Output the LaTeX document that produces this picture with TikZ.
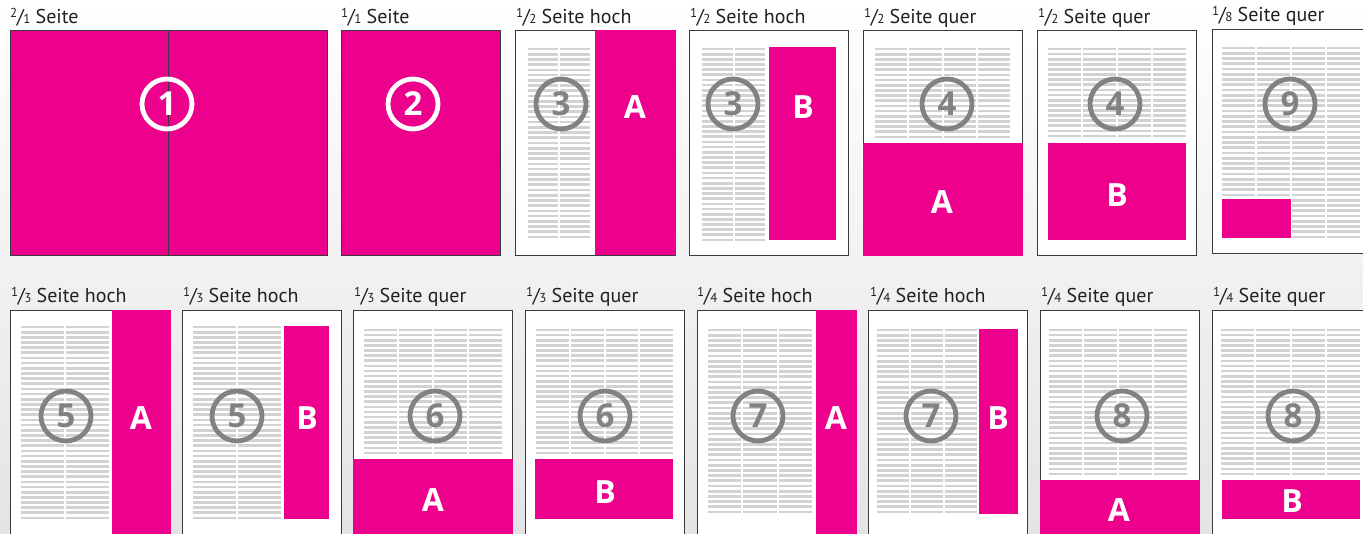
\documentclass[tikz,border=0pt]{standalone}
\usepackage{fontspec}
\setmainfont{PT Sans}
\newfontfamily\boldnum{Open Sans}
\definecolor{mag}{HTML}{EC008C}
\definecolor{tlgray}{HTML}{D2D2D3}
\definecolor{ringgray}{HTML}{828285}
\definecolor{pageborder}{HTML}{3A3A3A}
\definecolor{labelcol}{HTML}{231F20}
\definecolor{bgbot}{HTML}{E4E4E5}
\newcommand\frc[2]{{\fontsize{13}{13}\selectfont\raisebox{6pt}{#1}}\kern-0.3pt/\kern-0.8pt{\fontsize{13}{13}\selectfont #2}}
\newcommand\tlines[5]{%
  \pgfmathsetmacro\cw{(#2-#1+2)/#5}%
  \pgfmathtruncatemacro\nl{round((#4-#3)/5.22)}%
  \pgfmathsetmacro\lp{(#4-#3)/\nl}%
  \foreach \c in {1,...,#5}{%
    \foreach \l in {0,...,\nl}{%
      \fill[tlfill] ({#1+(\c-1)*\cw},{#3+\l*\lp-1.35}) rectangle ({#1+\c*\cw-2},{#3+\l*\lp+1.35});
    }%
  }%
}
\tikzset{
  pagebox/.style={fill=white, draw=pageborder, line width=1},
  pageline/.style={draw=pageborder, line width=1},
  magbox/.style={fill=mag},
  tlfill/.style={fill=tlgray},
  ring/.style={circle, draw=ringgray, line width=4.8, minimum size=50, inner sep=0, text=ringgray, font=\boldnum\fontsize{33}{33}\selectfont\bfseries},
  ringw/.style={ring, draw=white, text=white},
  letter/.style={inner sep=0, text=white, font=\boldnum\fontsize{32}{32}\selectfont\bfseries},
  lab/.style={anchor=base west, inner sep=0, text=labelcol, font=\fontsize{20}{20}\selectfont},
}
\begin{document}
\begin{tikzpicture}[x=1pt,y=-1pt]
\useasboundingbox (0,0) rectangle (1363,533);
\shade[top color=white, bottom color=bgbot] (0,0) rectangle (1363,533);
\clip (0,0) rectangle (1363,533);

% ---------- top row ----------
% 2/1
\fill[magbox] (10,30) rectangle (327,255);
\draw[pageline] (10,30) rectangle (327,255);
\draw[pageline] (168,30) -- (168,255);
\node[ringw] (c1) at (167,104) {1};
\node[lab] (l1) at (10,23) {\frc{2}{1} Seite};
% 1/1
\fill[magbox] (341,30) rectangle (500,255);
\draw[pageline] (341,30) rectangle (500,255);
\node[ringw] (c2) at (413,104) {2};
\node[lab] (l2) at (341,23) {\frc{1}{1} Seite};
% 3A
\draw[pagebox] (515,30) rectangle (675,255);
\tlines{528}{590}{49}{237}{2}
\fill[magbox] (595,30) rectangle (675.5,255);
\node[ring] (c3a) at (561,104) {3};
\node[letter] (t3a) at (635,107) {A};
\node[lab] (l3a) at (516,23) {\frc{1}{2} Seite hoch};
% 3B
\draw[pagebox] (689,30) rectangle (848,255);
\tlines{702}{765}{49}{240}{2}
\fill[magbox] (769,47) rectangle (836,240);
\node[ring] (c3b) at (733,104) {3};
\node[letter] (t3b) at (803,107) {B};
\node[lab] (l3b) at (690,23) {\frc{1}{2} Seite hoch};
% 4A
\draw[pagebox] (863,30) rectangle (1022,255);
\tlines{875}{1010}{49}{137}{4}
\fill[magbox] (863,143) rectangle (1022.5,255.5);
\node[ring] (c4a) at (947,104) {4};
\node[letter] (t4a) at (942,202) {A};
\node[lab] (l4a) at (864,23) {\frc{1}{2} Seite quer};
% 4B
\draw[pagebox] (1037,30) rectangle (1196,255);
\tlines{1048}{1186}{49}{136}{4}
\fill[magbox] (1048,143) rectangle (1186,240);
\node[ring] (c4b) at (1115,104) {4};
\node[letter] (t4b) at (1117,195) {B};
\node[lab] (l4b) at (1038,23) {\frc{1}{2} Seite quer};
% 9
\draw[pagebox] (1212,29) rectangle (1371,253);
\tlines{1222}{1360}{48}{237}{4}
\fill[magbox] (1222,199) rectangle (1291,238);
\node[ring] (c9) at (1290,104) {9};
\node[lab] (l9) at (1212,21) {\frc{1}{8} Seite quer};

% ---------- bottom row ----------
% 5A
\draw[pagebox] (10,310) rectangle (170,545);
\tlines{21}{109}{327}{518}{2}
\fill[magbox] (112,310) rectangle (170.5,545);
\node[ring] (c5a) at (66,416) {5};
\node[letter] (t5a) at (141,418) {A};
\node[lab] (l5a) at (11,302) {\frc{1}{3} Seite hoch};
% 5B
\draw[pagebox] (182,310) rectangle (341,545);
\tlines{193}{281}{327}{518}{2}
\fill[magbox] (284,326) rectangle (329,519);
\node[ring] (c5b) at (237,416) {5};
\node[letter] (t5b) at (307,418) {B};
\node[lab] (l5b) at (183,302) {\frc{1}{3} Seite hoch};
% 6A
\draw[pagebox] (353,310) rectangle (512,545);
\tlines{364}{502}{330}{453}{4}
\fill[magbox] (352.5,459) rectangle (512.5,545);
\node[ring] (c6a) at (435,416) {6};
\node[letter] (t6a) at (433,500) {A};
\node[lab] (l6a) at (354,302) {\frc{1}{3} Seite quer};
% 6B
\draw[pagebox] (525,310) rectangle (684,545);
\tlines{536}{673}{330}{453}{4}
\fill[magbox] (535,459) rectangle (673,519);
\node[ring] (c6b) at (605,416) {6};
\node[letter] (t6b) at (605,492) {B};
\node[lab] (l6b) at (526,302) {\frc{1}{3} Seite quer};
% 7A
\draw[pagebox] (697,310) rectangle (856,545);
\tlines{708}{812}{330}{512}{3}
\fill[magbox] (816,310) rectangle (856.5,545);
\node[ring] (c7a) at (758,416) {7};
\node[letter] (t7a) at (836,418) {A};
\node[lab] (l7a) at (697,302) {\frc{1}{4} Seite hoch};
% 7B
\draw[pagebox] (868,310) rectangle (1027,545);
\tlines{877}{977}{330}{512}{3}
\fill[magbox] (979,329) rectangle (1018,514);
\node[ring] (c7b) at (931,416) {7};
\node[letter] (t7b) at (998,418) {B};
\node[lab] (l7b) at (870,302) {\frc{1}{4} Seite hoch};
% 8A
\draw[pagebox] (1040,310) rectangle (1199,545);
\tlines{1049}{1187}{330}{474}{4}
\fill[magbox] (1039.5,480) rectangle (1199.5,545);
\node[ring] (c8a) at (1122,416) {8};
\node[letter] (t8a) at (1119,510) {A};
\node[lab] (l8a) at (1041,302) {\frc{1}{4} Seite quer};
% 8B
\draw[pagebox] (1212,310) rectangle (1371,545);
\tlines{1221}{1360}{330}{474}{4}
\fill[magbox] (1222,480) rectangle (1360,519);
\node[ring] (c8b) at (1293,416) {8};
\node[letter] (t8b) at (1292,501) {B};
\node[lab] (l8b) at (1213,302) {\frc{1}{4} Seite quer};
\end{tikzpicture}
\end{document}
